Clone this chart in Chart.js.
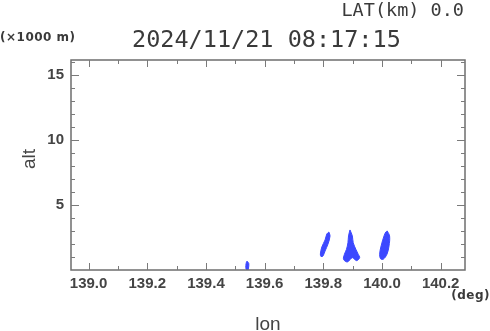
<!DOCTYPE html>
<html>
<head>
<meta charset="utf-8">
<script src="https://cdn.jsdelivr.net/npm/chart.js@4.4.1/dist/chart.umd.min.js"></script>
<style>
  html, body { margin: 0; padding: 0; background: #fff; }
  #wrap { width: 490px; height: 331px; position: relative; }
</style>
</head>
<body>
<div id="wrap"><canvas id="c" width="490" height="331"></canvas></div>
<script>
// ---- texts ----
const titleText = "2024/11/21 08:17:15";
const latText = "LAT(km) 0.0";
const yUnitText = "(\u00d71000 m)";
const xUnitText = "(deg)";
const xTitle = "lon";
const yTitle = "alt";

// ---- axes ----
const xMin = 138.94, xMax = 140.283;
const yMin = 0, yMax = 16.15;
const xTickValues = [139.0, 139.2, 139.4, 139.6, 139.8, 140.0, 140.2];
const xMinorValues = [139.1, 139.3, 139.5, 139.7, 139.9, 140.1];
const yTickValues = [5, 10, 15];
const yMinorValues = [1, 2, 3, 4, 6, 7, 8, 9, 11, 12, 13, 14, 16];

// ---- echo blobs (lon / alt outlines) ----
const blob1Lon = [139.819, 139.823, 139.816, 139.806, 139.799, 139.792, 139.790, 139.795, 139.806, 139.812];
const blob1Alt = [2.92, 2.62, 2.00, 1.46, 1.08, 1.04, 1.23, 1.77, 2.31, 2.77];

const blob2Lon = [139.891, 139.899, 139.902, 139.911, 139.919, 139.924, 139.913, 139.899, 139.882, 139.869, 139.872, 139.879, 139.884, 139.886];
const blob2Alt = [3.08, 2.62, 2.10, 1.59, 1.21, 0.95, 0.72, 0.95, 0.62, 0.82, 1.21, 1.59, 2.10, 2.62];

const blob3Lon = [140.018, 140.026, 140.024, 140.017, 140.004, 139.995, 139.992, 139.997, 140.007, 140.013];
const blob3Alt = [3.00, 2.62, 1.85, 1.21, 0.82, 0.87, 1.21, 1.85, 2.62, 2.92];

const blob3CoreLon = [140.015, 140.018, 140.011, 140.004, 140.007];
const blob3CoreAlt = [2.46, 1.92, 1.38, 1.54, 2.15];

const blob4Lon = [139.540, 139.546, 139.545, 139.543, 139.537, 139.536, 139.538];
const blob4Alt = [0.68, 0.50, 0.15, 0.00, 0.05, 0.35, 0.60];

function outline(lons, alts) {
  const pts = lons.map((x, i) => ({ x: x, y: alts[i] }));
  pts.push({ x: lons[0], y: alts[0] });
  return pts;
}

const BLUE = "#3c48ff";
const LIGHT = "#4f8dff";

function blobDataset(lons, alts, color) {
  return {
    data: outline(lons, alts),
    showLine: true,
    fill: "shape",
    backgroundColor: color,
    borderColor: color,
    borderWidth: 1,
    pointRadius: 0,
    tension: 0.35
  };
}

const frameAndText = {
  id: "frameAndText",
  afterDraw(chart) {
    const ctx = chart.ctx;
    const a = chart.chartArea;
    const xs = chart.scales.x, ys = chart.scales.y;
    ctx.save();
    // frame
    ctx.strokeStyle = "#6e6e6e";
    ctx.lineWidth = 1.5;
    ctx.strokeRect(a.left, a.top, a.right - a.left, a.bottom - a.top);
    // inner ticks
    ctx.lineWidth = 1;
    ctx.strokeStyle = "#7a7a7a";
    ctx.beginPath();
    const tickX = (vals, len) => vals.forEach(v => {
      const p = Math.round(xs.getPixelForValue(v)) + 0.5;
      ctx.moveTo(p, a.bottom); ctx.lineTo(p, a.bottom - len);
      ctx.moveTo(p, a.top); ctx.lineTo(p, a.top + len);
    });
    const tickY = (vals, len) => vals.forEach(v => {
      const p = Math.round(ys.getPixelForValue(v)) + 0.5;
      ctx.moveTo(a.left, p); ctx.lineTo(a.left + len, p);
      ctx.moveTo(a.right, p); ctx.lineTo(a.right - len, p);
    });
    tickX(xTickValues, 7); tickX(xMinorValues, 4);
    tickY(yTickValues, 8); tickY(yMinorValues.filter(v => v < yMax), 4);
    ctx.stroke();

    // texts
    ctx.fillStyle = "#3a3a3a";
    ctx.textBaseline = "alphabetic";
    ctx.font = "18.5px 'DejaVu Sans Mono'";
    ctx.textAlign = "right";
    ctx.fillText(latText, 464, 16);

    ctx.font = "23.5px 'DejaVu Sans Mono'";
    ctx.textAlign = "left";
    ctx.fillText(titleText, 132, 47);

    ctx.font = "bold 12px 'DejaVu Sans'";
    ctx.letterSpacing = "0.5px";
    ctx.textAlign = "left";
    ctx.fillText(yUnitText, 0, 41);

    ctx.textAlign = "right";
    ctx.fillText(xUnitText, 490, 299);
    ctx.letterSpacing = "0px";

    ctx.font = "19px 'Liberation Sans'";
    ctx.fillStyle = "#444";
    ctx.textAlign = "center";
    ctx.fillText(xTitle, 268, 330);

    ctx.translate(35, 159);
    ctx.rotate(-Math.PI / 2);
    ctx.textAlign = "center";
    ctx.fillText(yTitle, 0, 0);
    ctx.restore();
  }
};

new Chart(document.getElementById("c"), {
  type: "scatter",
  data: {
    datasets: [
      blobDataset(blob1Lon, blob1Alt, BLUE),
      blobDataset(blob2Lon, blob2Alt, BLUE),
      blobDataset(blob3Lon, blob3Alt, BLUE),
      blobDataset(blob3CoreLon, blob3CoreAlt, LIGHT),
      blobDataset(blob4Lon, blob4Alt, BLUE)
    ]
  },
  options: {
    responsive: false,
    animation: false,
    layout: { padding: { top: 60, right: 25, left: 0, bottom: 0 } },
    plugins: { legend: { display: false }, tooltip: { enabled: false }, title: { display: false } },
    scales: {
      x: {
        type: "linear",
        min: xMin, max: xMax,
        grid: { display: false, drawTicks: false },
        border: { display: false },
        afterBuildTicks: s => { s.ticks = xTickValues.map(v => ({ value: v })); },
        afterFit: s => { s.height = 61; },
        ticks: {
          autoSkip: false,
          maxRotation: 0,
          padding: 5,
          color: "#444",
          font: { family: "'Liberation Sans'", size: 15, weight: "bold" },
          callback: v => Number(v).toFixed(1)
        }
      },
      y: {
        type: "linear",
        min: yMin, max: yMax,
        grid: { display: false, drawTicks: false },
        border: { display: false },
        afterBuildTicks: s => { s.ticks = yTickValues.map(v => ({ value: v })); },
        afterFit: s => { s.width = 71; },
        ticks: {
          autoSkip: false,
          padding: 7,
          color: "#444",
          font: { family: "'Liberation Sans'", size: 15, weight: "bold" },
          callback: v => String(v)
        }
      }
    }
  },
  plugins: [frameAndText]
});
</script>
</body>
</html>
